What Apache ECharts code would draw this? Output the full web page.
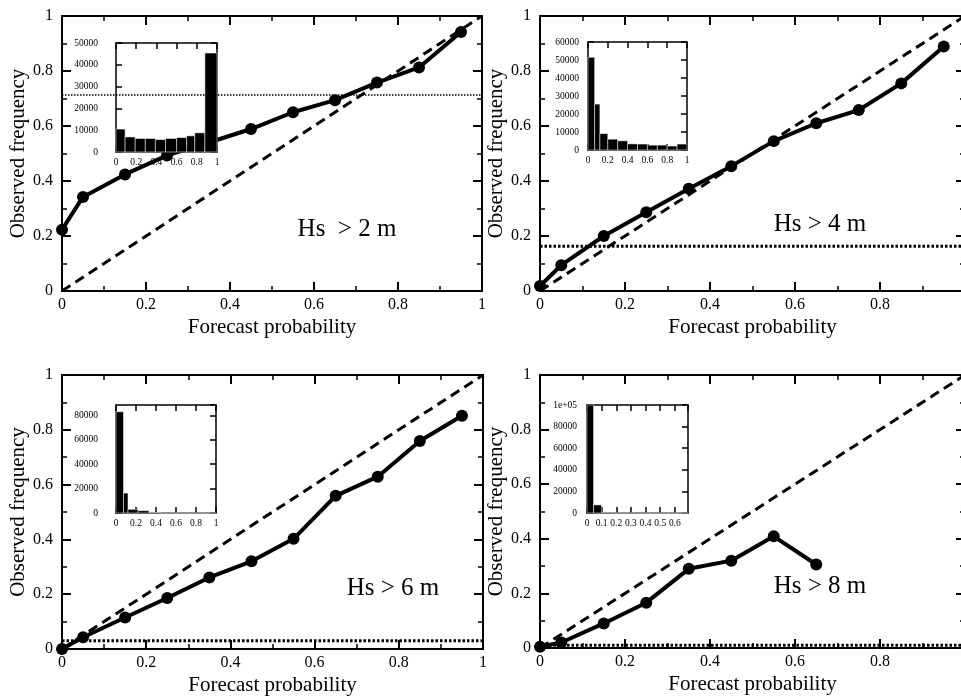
<!DOCTYPE html>
<html>
<head>
<meta charset="utf-8">
<title>Reliability diagrams</title>
<script src="https://cdn.jsdelivr.net/npm/echarts@6/dist/echarts.min.js"></script>
<style>
    html, body { margin: 0; padding: 0; background: #fff; }
    #chart { width: 961px; height: 700px; }
</style>
</head>
<body>
<div id="chart"></div>
<script>
'use strict';

// forecast probability bins (x of every point)
var probX = [0, 0.05, 0.15, 0.25, 0.35, 0.45, 0.55, 0.65, 0.75, 0.85, 0.95];

// observed frequency per threshold
var obsHs2 = [0.223, 0.342, 0.424, 0.493, 0.540, 0.589, 0.650, 0.694, 0.758, 0.813, 0.942];
var obsHs4 = [0.018, 0.094, 0.200, 0.286, 0.372, 0.454, 0.545, 0.610, 0.658, 0.755, 0.889];
var obsHs6 = [0.000, 0.043, 0.115, 0.186, 0.261, 0.320, 0.402, 0.559, 0.629, 0.759, 0.851];
var obsHs8 = [0.005, 0.020, 0.090, 0.166, 0.290, 0.320, 0.409, 0.306];

// climatological frequency (dotted lines)
var climFreq = [0.713, 0.163, 0.030, 0.010];

var panelLabels = ['Hs  > 2 m', 'Hs > 4 m', 'Hs > 6 m', 'Hs > 8 m'];

// inset histograms: bin edges and counts
var histEdgesHs2 = [0, 0.09, 0.19, 0.29, 0.39, 0.49, 0.6, 0.7, 0.78, 0.88, 1];
var histCountsHs2 = [10500, 6900, 6200, 6200, 5700, 6200, 6600, 7400, 8800, 45400];
var histEdgesHs4 = [0, 0.067, 0.12, 0.2, 0.3, 0.4, 0.5, 0.6, 0.7, 0.8, 0.9, 1];
var histCountsHs4 = [51500, 25500, 9100, 6000, 5100, 3400, 3300, 2700, 2700, 2200, 3300];
var histEdgesHs6 = [0, 0.075, 0.12, 0.22, 0.33, 0.44, 0.55, 0.66, 0.77, 0.88, 1];
var histCountsHs6 = [83000, 16300, 3000, 1900, 400, 0, 0, 0, 0, 0];
var histEdgesHs8 = [0, 0.045, 0.1, 0.2, 0.3, 0.4, 0.5, 0.6, 0.69];
var histCountsHs8 = [100000, 7500, 300, 0, 0, 0, 0, 0];

// inset axis ranges / tick steps
var histXMax = [1, 1, 1, 0.69];
var histXStep = [0.2, 0.2, 0.2, 0.1];
var histYMax = [50000, 60000, 88500, 100000];
var histYStep = [10000, 10000, 20000, 20000];

var FONT = '"Liberation Serif", "Times New Roman", serif';

var obsAll = [obsHs2, obsHs4, obsHs6, obsHs8];
var histEdgesAll = [histEdgesHs2, histEdgesHs4, histEdgesHs6, histEdgesHs8];
var histCountsAll = [histCountsHs2, histCountsHs4, histCountsHs6, histCountsHs8];

var mainGrids = [
    { left: 62, top: 16, width: 420, height: 275 },
    { left: 540, top: 16, width: 425, height: 275 },
    { left: 62, top: 375, width: 421, height: 274 },
    { left: 540, top: 375, width: 425, height: 273 }
];
var insetGrids = [
    { left: 116, top: 43, width: 101, height: 109 },
    { left: 588, top: 42, width: 99, height: 108 },
    { left: 116, top: 405, width: 100, height: 108 },
    { left: 587, top: 405, width: 101, height: 108 }
];
var insetLabelGap = [18, 9, 18, 10];
var labelPos = [[347, 229], [820, 224], [393, 588], [820, 586]];

function lineStyleBlack(w) {
    return { color: '#000', width: w };
}

function mainAxis(kind, gi, pos, withLabels) {
    var ax = {
        type: 'value', gridIndex: gi, position: pos, min: 0, max: 1, interval: 0.2,
        axisLine: { show: true, onZero: false, lineStyle: lineStyleBlack(2) },
        axisTick: { show: true, inside: true, length: 9, lineStyle: lineStyleBlack(2) },
        minorTick: { show: true, splitNumber: 2, length: 5, lineStyle: lineStyleBlack(1.5) },
        splitLine: { show: false },
        axisLabel: { show: withLabels, color: '#000', fontFamily: FONT, fontSize: 16, margin: kind === 'x' ? 6 : 9 }
    };
    if (withLabels) {
        ax.name = kind === 'x' ? 'Forecast probability' : 'Observed frequency';
        ax.nameLocation = 'middle';
        ax.nameGap = kind === 'x' ? 26 : 33;
        ax.nameTextStyle = { color: '#000', fontFamily: FONT, fontSize: 21 };
    }
    return ax;
}

function insetAxis(kind, i, pos, withLabels) {
    var isX = kind === 'x';
    var ax = {
        type: 'value', gridIndex: 4 + i, position: pos, min: 0,
        max: isX ? histXMax[i] : histYMax[i],
        interval: isX ? histXStep[i] : histYStep[i],
        axisLine: { show: true, onZero: false, lineStyle: lineStyleBlack(1.5) },
        axisTick: { show: true, inside: true, length: 6, lineStyle: lineStyleBlack(1.5) },
        splitLine: { show: false },
        axisLabel: {
            show: withLabels, color: '#000', fontFamily: FONT, fontSize: 9.5,
            margin: isX ? 5 : insetLabelGap[i],
            showMaxLabel: !((isX && i === 3) || (!isX && i === 2)),
            formatter: function (v) { return v === 100000 ? '1e+05' : String(+v.toFixed(2)); }
        }
    };
    return ax;
}

function histItem(params, api) {
    var p0 = api.coord([api.value(0), api.value(2)]);
    var p1 = api.coord([api.value(1), 0]);
    var cs = params.coordSys;
    var rect = echarts.graphic.clipRectByRect(
        { x: p0[0], y: p0[1], width: p1[0] - p0[0], height: p1[1] - p0[1] },
        { x: cs.x, y: cs.y, width: cs.width, height: cs.height }
    );
    if (!rect) return;
    return { type: 'rect', shape: rect, style: { fill: '#000', stroke: '#fff', lineWidth: 0.5 } };
}

var grid = [], xAxis = [], yAxis = [], series = [], graphic = [];

mainGrids.forEach(function (g) { grid.push(Object.assign({ outerBoundsMode: 'none' }, g)); });
insetGrids.forEach(function (g) { grid.push(Object.assign({ outerBoundsMode: 'none' }, g)); });

for (var i = 0; i < 4; i++) {
    var xi = xAxis.length, yi = yAxis.length;
    // main panel axes: bottom/left labelled, top/right mirrored ticks
    xAxis.push(mainAxis('x', i, 'bottom', true));
    xAxis.push(mainAxis('x', i, 'top', false));
    yAxis.push(mainAxis('y', i, 'left', true));
    yAxis.push(mainAxis('y', i, 'right', false));
    // inset axes
    xAxis.push(insetAxis('x', i, 'bottom', true));
    xAxis.push(insetAxis('x', i, 'top', false));
    yAxis.push(insetAxis('y', i, 'left', true));
    yAxis.push(insetAxis('y', i, 'right', false));

    var pts = obsAll[i].map(function (v, k) { return [probX[k], v]; });

    series.push({
        type: 'line', xAxisIndex: xi, yAxisIndex: yi, data: [[0, 0], [1, 1]],
        symbol: 'none', lineStyle: { color: '#000', width: 3, type: [10, 6] }, z: 3, silent: true
    });
    series.push({
        type: 'line', xAxisIndex: xi, yAxisIndex: yi, data: [[0, climFreq[i]], [1, climFreq[i]]],
        symbol: 'none', z: 6, silent: true,
        lineStyle: { color: '#000', width: i === 0 ? 1.5 : 3, type: i === 0 ? [1.5, 1.5] : [2.5, 2] }
    });
    series.push({
        type: 'line', xAxisIndex: xi, yAxisIndex: yi, data: pts,
        symbol: 'circle', symbolSize: 12, z: 4, silent: true,
        lineStyle: { color: '#000', width: 4 }, itemStyle: { color: '#000' }
    });

    var edges = histEdgesAll[i];
    var bins = histCountsAll[i].map(function (c, k) { return [edges[k], edges[k + 1], c]; });
    series.push({
        type: 'custom', xAxisIndex: xi + 2, yAxisIndex: yi + 2, data: bins,
        renderItem: histItem, encode: { x: [0, 1], y: 2 }, z: 5, silent: true
    });

    graphic.push({
        type: 'text', x: labelPos[i][0], y: labelPos[i][1], z: 10,
        style: { text: panelLabels[i], fill: '#000', font: '25px ' + FONT, align: 'center', verticalAlign: 'middle' }
    });
}

var chart = echarts.init(document.getElementById('chart'), null, { renderer: 'canvas' });
chart.setOption({
    animation: false,
    backgroundColor: '#fff',
    grid: grid,
    xAxis: xAxis,
    yAxis: yAxis,
    series: series,
    graphic: graphic
});
</script>
</body>
</html>
